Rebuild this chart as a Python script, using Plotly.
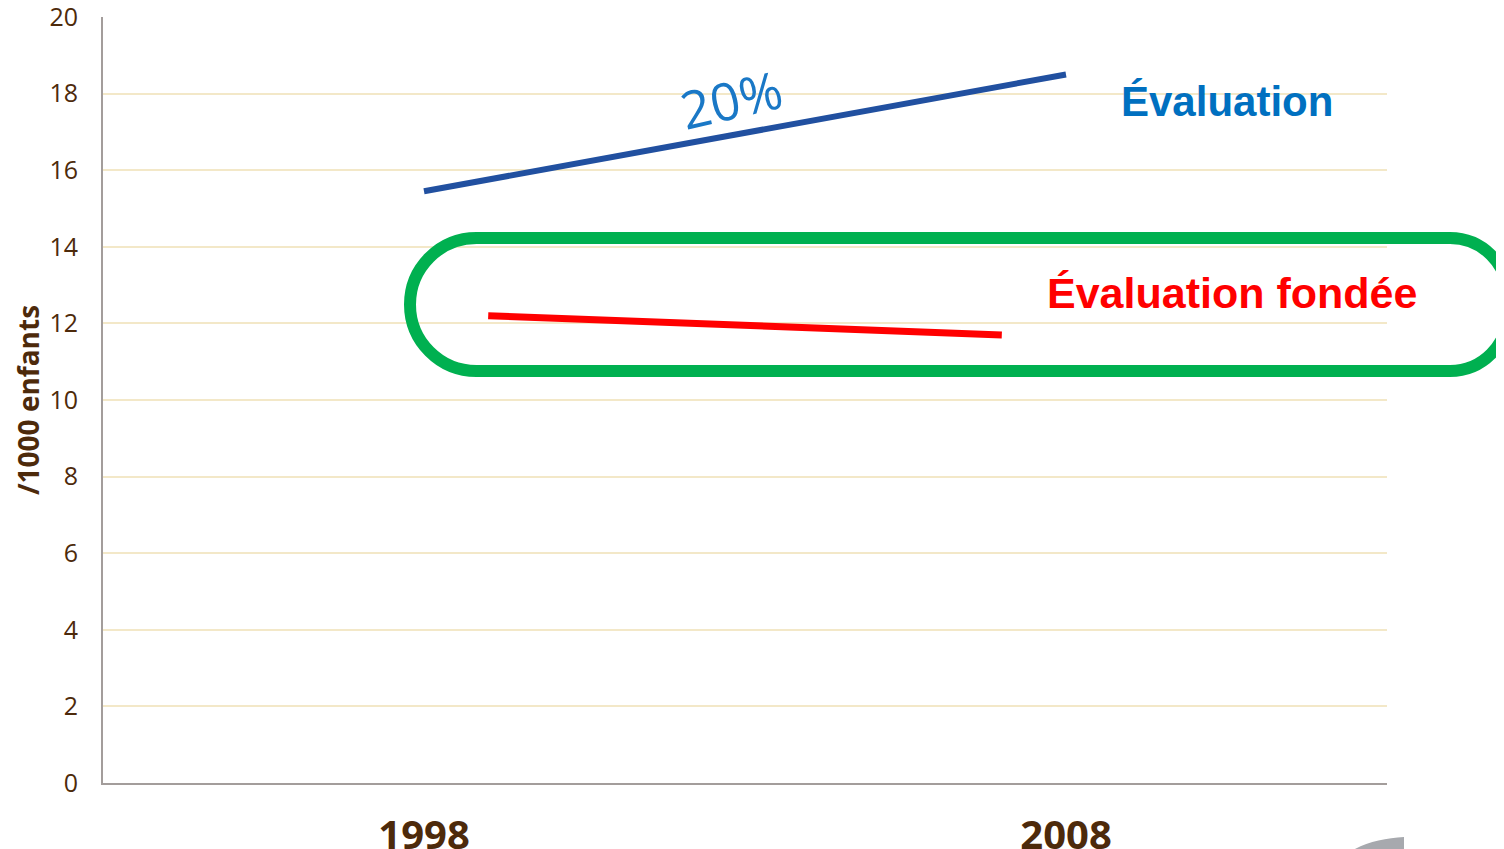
import plotly.graph_objects as go

# ---- data ----
years_eval = [1998, 2008]
values_eval = [15.45, 18.5]
years_fondee = [1999, 2007]
values_fondee = [12.2, 11.7]
y_ticks = [0, 2, 4, 6, 8, 10, 12, 14, 16, 18, 20]
x_ticks = [1998, 2008]
x_ticktext = ["1998", "2008"]
label_eval = "Évaluation"
label_fondee = "Évaluation fondée"
label_pct = "20%"
y_title = "/1000 enfants"

OFF = 8  # default body margin of the page
W, H = 1504 - OFF, 849 - OFF
L, R, T, B = 103, 1387, 17, 783  # plot area bounds in page pixels

BROWN = "#4d2a0b"
GRID = "#f3e8c8"
AXIS = "#a39d9b"

def px(x):
    return (x - L) / (R - L)

def py(y):
    return (B - y) / (B - T)

fig = go.Figure()
fig.add_trace(go.Scatter(x=years_eval, y=values_eval, mode="lines",
                         line=dict(color="#2150a0", width=6), showlegend=False,
                         hoverinfo="skip"))
fig.add_trace(go.Scatter(x=years_fondee, y=values_fondee, mode="lines",
                         line=dict(color="#ff0000", width=7), showlegend=False,
                         hoverinfo="skip"))

def P(x, y):
    return f"{px(x):.5f},{py(y):.5f}"

# rounded frame around the red line, built in page pixels
x0, x1, y0, y1 = 410, 1508, 238, 371
rl = (y1 - y0) / 2   # left end: half circle
rr = 58              # right end: rounded corners
kl = 0.5523 * rl
kr = 0.5523 * rr
path = (
    f"M {P(x0 + rl, y0)} L {P(x1 - rr, y0)} "
    f"C {P(x1 - rr + kr, y0)} {P(x1, y0 + rr - kr)} {P(x1, y0 + rr)} "
    f"L {P(x1, y1 - rr)} "
    f"C {P(x1, y1 - rr + kr)} {P(x1 - rr + kr, y1)} {P(x1 - rr, y1)} "
    f"L {P(x0 + rl, y1)} "
    f"C {P(x0 + rl - kl, y1)} {P(x0, y1 - rl + kl)} {P(x0, y1 - rl)} "
    f"C {P(x0, y0 + rl - kl)} {P(x0 + rl - kl, y0)} {P(x0 + rl, y0)} Z"
)
fig.add_shape(type="path", path=path, xref="paper", yref="paper",
              line=dict(color="#00b050", width=12), fillcolor="rgba(0,0,0,0)")

# grey decoration at bottom right corner
gpath = (f"M {P(1350, 852)} C {P(1365, 842)} {P(1385, 838)} {P(1404, 837)} "
         f"L {P(1404, 852)} Z")
fig.add_shape(type="path", path=gpath, xref="paper", yref="paper",
              line=dict(width=0), fillcolor="#a7a9ae")

def label(x, y, text, font, angle=0):
    fig.add_annotation(x=px(x), y=py(y), xref="paper", yref="paper",
                       xanchor="center", yanchor="middle",
                       text=text, showarrow=False, textangle=angle, font=font)

label(1227, 101, label_eval,
      dict(family="Liberation Sans, Arial", size=42, color="#0070c0",
           weight="bold"))
label(1232, 293, label_fondee,
      dict(family="Liberation Sans, Arial", size=43, color="#ff0000",
           weight="bold"))
label(731, 99, label_pct,
      dict(family="Open Sans, Noto Sans", size=52, color="#1a78c6"),
      angle=-13)
label(28, 400, y_title,
      dict(family="Open Sans", size=28, color=BROWN, weight="bold"),
      angle=-90)

fig.update_layout(
    width=W, height=H,
    margin=dict(l=L - OFF, r=1504 - R, t=T - OFF, b=849 - B, pad=0),
    plot_bgcolor="white", paper_bgcolor="white",
    font=dict(family="Open Sans", color=BROWN),
    xaxis=dict(range=[1993, 2013], tickvals=x_ticks, ticktext=x_ticktext,
               showgrid=False, zeroline=False, showline=True,
               linecolor=AXIS, linewidth=2, ticks="", automargin=False,
               ticklabelstandoff=16, ticklabeloverflow="allow",
               tickfont=dict(family="Open Sans", size=40, color=BROWN,
                             weight="bold")),
    yaxis=dict(range=[0, 20], tickvals=y_ticks, showgrid=True,
               gridcolor=GRID, gridwidth=1.5, zeroline=False,
               showline=True, linecolor=AXIS, linewidth=2, ticks="",
               automargin=False, ticklabelstandoff=18,
               ticklabeloverflow="allow",
               tickfont=dict(family="Open Sans", size=25, color=BROWN)),
)

fig.write_html("out.html")
